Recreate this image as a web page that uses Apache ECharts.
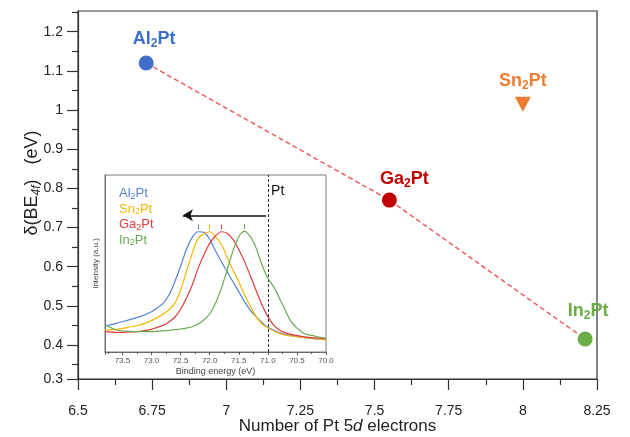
<!DOCTYPE html>
<html>
<head>
<meta charset="utf-8">
<script src="https://cdn.jsdelivr.net/npm/echarts@6/dist/echarts.min.js"></script>
<style>
  html, body { margin: 0; padding: 0; background: #fff; }
  #chart { width: 630px; height: 437px; }
</style>
</head>
<body>
<div id="chart"></div>
<script>
// main plot: Pt 4f shift vs. number of Pt 5d electrons
const compounds = ['Al2Pt', 'Sn2Pt', 'Ga2Pt', 'In2Pt']
const electrons = [6.73, 8.0, 7.55, 8.21]
const beShift = [1.12, 1.015, 0.77, 0.415]
const trendMembers = ['Al2Pt', 'Ga2Pt', 'In2Pt'] // joined by the dashed line

const yTicks = [0.3, 0.4, 0.5, 0.6, 0.7, 0.8, 0.9, 1, 1.1, 1.2]
const yMinorTicks = [0.35, 0.45, 0.55, 0.65, 0.75, 0.85, 0.95, 1.05, 1.15, 1.25]

// inset: Pt 4f XPS spectra (normalised)
const bindingEnergy = [73.8, 73.6, 73.4, 73.2, 73.0, 72.9, 72.8, 72.7, 72.6, 72.5, 72.4, 72.3, 72.2, 72.1, 72.0, 71.9,
  71.8, 71.7, 71.6, 71.5, 71.4, 71.3, 71.2, 71.1, 71.0, 70.9, 70.8, 70.7, 70.6, 70.4, 70.2, 70.0]
const intAl = [0.215, 0.237, 0.264, 0.292, 0.333, 0.366, 0.402, 0.471, 0.581, 0.711, 0.848, 0.948, 0.994, 0.989, 0.931, 0.837,
  0.747, 0.664, 0.581, 0.499, 0.416, 0.344, 0.292, 0.242, 0.204, 0.179, 0.160, 0.146, 0.135, 0.121, 0.110, 0.105]
const intSn = [0.182, 0.187, 0.204, 0.223, 0.259, 0.284, 0.314, 0.347, 0.402, 0.512, 0.664, 0.815, 0.939, 0.975, 0.994, 0.953,
  0.893, 0.782, 0.678, 0.581, 0.471, 0.375, 0.292, 0.231, 0.201, 0.174, 0.154, 0.140, 0.132, 0.121, 0.110, 0.099]
const intGa = [0.168, 0.163, 0.165, 0.171, 0.187, 0.204, 0.220, 0.248, 0.287, 0.353, 0.444, 0.554, 0.691, 0.802, 0.898, 0.959,
  0.994, 0.981, 0.931, 0.848, 0.747, 0.628, 0.507, 0.388, 0.292, 0.223, 0.182, 0.160, 0.146, 0.127, 0.116, 0.113]
const intIn = [0.223, 0.182, 0.171, 0.168, 0.168, 0.171, 0.174, 0.179, 0.185, 0.190, 0.198, 0.209, 0.231, 0.264, 0.314, 0.402,
  0.526, 0.678, 0.835, 0.953, 0.997, 0.953, 0.857, 0.719, 0.609, 0.540, 0.444, 0.347, 0.251, 0.160, 0.132, 0.113]
const spectra = [intAl, intSn, intGa, intIn]

const ptReference = 71.0 // metallic Pt 4f7/2
const arrowFrom = 71.03
const arrowTo = 72.46

// styles
const FONT = 'Liberation Sans, Arial, sans-serif'
const markerColors = { Al2Pt: '#3f6fc8', Sn2Pt: '#ed7d31', Ga2Pt: '#c00000', In2Pt: '#6aac46' }
const insetColors = { Al2Pt: '#5584d4', Sn2Pt: '#f2b705', Ga2Pt: '#e23b3b', In2Pt: '#6aa955' }
const labelOffsets = { Al2Pt: [8, -1], Sn2Pt: [0, 0], Ga2Pt: [15, 2], In2Pt: [3, -5] }
const yMin = 0.313
const yMax = 1.253
const yTickPos = yTicks.map((v) => Math.max(v, yMin))

function subName(name, key) {
  // 'Al2Pt' -> rich text with subscript 2
  const m = name.match(/^([A-Za-z]+)(\d)(.*)$/)
  return '{' + key + '|' + m[1] + '}{' + key + 's|' + m[2] + '}{' + key + '|' + m[3] + '}'
}

function richFor(key, color, size, sub, lh, bold) {
  const r = {}
  r[key] = { color, fontSize: size, fontWeight: bold ? 'bold' : 'normal', fontFamily: FONT, lineHeight: lh, verticalAlign: 'middle' }
  r[key + 's'] = { color, fontSize: sub, fontWeight: bold ? 'bold' : 'normal', fontFamily: FONT, lineHeight: sub, verticalAlign: 'bottom' }
  return r
}

const chart = echarts.init(document.getElementById('chart'))

const mainSeries = compounds.map((name, i) => ({
  name: 'main ' + name,
  type: 'scatter',
  xAxisIndex: 0,
  yAxisIndex: 0,
  data: [[electrons[i], beShift[i]]],
  symbol: name === 'Sn2Pt' ? 'triangle' : 'circle',
  symbolSize: name === 'Sn2Pt' ? [16, 15] : 15,
  symbolRotate: name === 'Sn2Pt' ? 180 : 0,
  itemStyle: { color: markerColors[name], opacity: 1 },
  z: 5,
  label: {
    show: true,
    position: 'top',
    distance: 5,
    offset: labelOffsets[name],
    formatter: subName(name, 'k'),
    rich: richFor('k', markerColors[name], 18, 12, 22, true)
  }
}))

const trendSeries = {
  name: 'trend',
  type: 'line',
  xAxisIndex: 0,
  yAxisIndex: 0,
  data: trendMembers.map((n) => {
    const i = compounds.indexOf(n)
    return [electrons[i], beShift[i]]
  }),
  symbol: 'none',
  lineStyle: { color: '#f05555', width: 1.4, type: [5, 3] },
  z: 3
}

const insetSeries = compounds.map((name, c) => {
  const data = bindingEnergy.map((e, k) => [e, spectra[c][k]])
  let pk = 0
  spectra[c].forEach((v, k) => { if (v > spectra[c][pk]) pk = k })
  const peakE = bindingEnergy[pk]
  const peakV = spectra[c][pk]
  const lines = [
    [{ coord: [peakE, peakV + 0.02] }, { coord: [peakE, peakV + 0.06] }]
  ]
  const s = {
    name,
    type: 'line',
    xAxisIndex: 1,
    yAxisIndex: 2,
    data,
    showSymbol: false,
    smooth: 0.3,
    z: 6,
    lineStyle: { color: insetColors[name], width: 1.2 },
    itemStyle: { color: insetColors[name] },
    markLine: {
      silent: true,
      symbol: ['none', 'none'],
      label: { show: false },
      lineStyle: { color: insetColors[name], type: 'solid', width: 1 },
      data: lines
    }
  }
  if (name === 'In2Pt') {
    lines.push({ xAxis: ptReference, lineStyle: { color: '#333', type: [3, 2], width: 1 } })
    lines.push([
      { coord: [arrowFrom, 1.13], symbol: 'none', lineStyle: { color: '#111', type: 'solid', width: 1.5 } },
      { coord: [arrowTo, 1.13], symbol: 'arrow', symbolSize: [9, 10] }
    ])
    s.markPoint = {
      silent: true,
      symbolSize: 0,
      data: [{ coord: [70.83, 1.33], label: { show: true, position: 'inside', formatter: 'Pt', fontSize: 14, color: '#111', fontFamily: FONT } }]
    }
  }
  return s
})

const legendRich = {}
compounds.forEach((n) => Object.assign(legendRich, richFor(n.slice(0, 2).toLowerCase(), insetColors[n], 13, 9, 15, false)))

chart.setOption({
  animation: false,
  backgroundColor: '#fff',
  textStyle: { fontFamily: FONT },
  grid: [
    { left: 78, right: 33, top: 11, bottom: 58, show: true, borderColor: '#333', borderWidth: 1.2, outerBoundsMode: 'none' },
    { left: 105, top: 175, width: 221, height: 177, show: true, borderColor: '#555', borderWidth: 0.8, backgroundColor: '#fff', outerBoundsMode: 'none' }
  ],
  legend: {
    left: 108,
    top: 182,
    orient: 'vertical',
    itemGap: 1.5,
    itemWidth: 0,
    itemHeight: 0,
    selectedMode: false,
    data: compounds,
    formatter: (n) => subName(n, n.slice(0, 2).toLowerCase()),
    textStyle: { fontSize: 13, rich: legendRich }
  },
  xAxis: [
    {
      gridIndex: 0,
      type: 'value',
      min: 6.5,
      max: 8.25,
      interval: 0.25,
      axisLine: { lineStyle: { color: '#333', width: 1.2 } },
      axisTick: { length: 11, lineStyle: { color: '#333', width: 1.2 } },
      minorTick: { show: true, splitNumber: 2, length: 6, lineStyle: { color: '#333', width: 1.2 } },
      splitLine: { show: false },
      axisLabel: { fontSize: 14, color: '#222', margin: 25 },
      name: 'Number of Pt 5{i|d} electrons',
      nameLocation: 'middle',
      nameGap: 39,
      nameMoveOverlap: false,
      nameTextStyle: { fontSize: 17, color: '#222', rich: { i: { fontSize: 17, color: '#222', fontStyle: 'italic' } } }
    },
    {
      gridIndex: 1,
      type: 'value',
      inverse: true,
      min: 70,
      max: 73.8,
      interval: 0.5,
      axisLine: { lineStyle: { color: '#555', width: 0.8 } },
      axisTick: { length: 3, lineStyle: { color: '#555' } },
      minorTick: { show: true, splitNumber: 2, length: 2, lineStyle: { color: '#555' } },
      splitLine: { show: false },
      axisLabel: { fontSize: 8, color: '#555', margin: 5, showMaxLabel: false, formatter: (v) => v.toFixed(1) },
      name: 'Binding energy (eV)',
      nameLocation: 'middle',
      nameGap: 15,
      nameMoveOverlap: false,
      nameTextStyle: { fontSize: 9, color: '#444' }
    }
  ],
  yAxis: [
    {
      gridIndex: 0,
      type: 'value',
      min: yMin,
      max: yMax,
      axisLine: { lineStyle: { color: '#333', width: 1.2 } },
      axisTick: { customValues: yTickPos, length: 11, lineStyle: { color: '#333', width: 1.2 } },
      splitLine: { show: false },
      axisLabel: {
        customValues: yTickPos,
        fontSize: 14,
        color: '#222',
        margin: 15,
        formatter: (v) => {
          const i = yTickPos.findIndex((p) => Math.abs(p - v) < 1e-6)
          return i >= 0 ? String(yTicks[i]) : ''
        }
      },
      name: '{n|δ(BE}{s|4f}{n|)   (eV)}',
      nameLocation: 'middle',
      nameGap: 35,
      nameMoveOverlap: false,
      nameTextStyle: {
        padding: [0, 0, 0, 24],
        rich: {
          n: { fontSize: 18, color: '#222', lineHeight: 22, verticalAlign: 'middle' },
          s: { fontSize: 12, color: '#222', fontStyle: 'italic', lineHeight: 12, verticalAlign: 'bottom' }
        }
      }
    },
    {
      // minor ticks of the left axis
      gridIndex: 0,
      type: 'value',
      position: 'left',
      min: yMin,
      max: yMax,
      axisLine: { show: false },
      axisTick: { customValues: yMinorTicks, length: 6, lineStyle: { color: '#333', width: 1.2 } },
      axisLabel: { show: false },
      splitLine: { show: false }
    },
    {
      gridIndex: 1,
      type: 'value',
      min: 0,
      max: 1.463,
      axisLine: { show: true, lineStyle: { color: '#555', width: 0.8 } },
      axisTick: { show: false },
      axisLabel: { show: false },
      splitLine: { show: false },
      name: 'Intensity (a.u.)',
      nameLocation: 'middle',
      nameGap: 5,
      nameMoveOverlap: false,
      nameTextStyle: { fontSize: 8, color: '#444' }
    }
  ],
  series: [trendSeries].concat(mainSeries, insetSeries)
})
</script>
</body>
</html>
